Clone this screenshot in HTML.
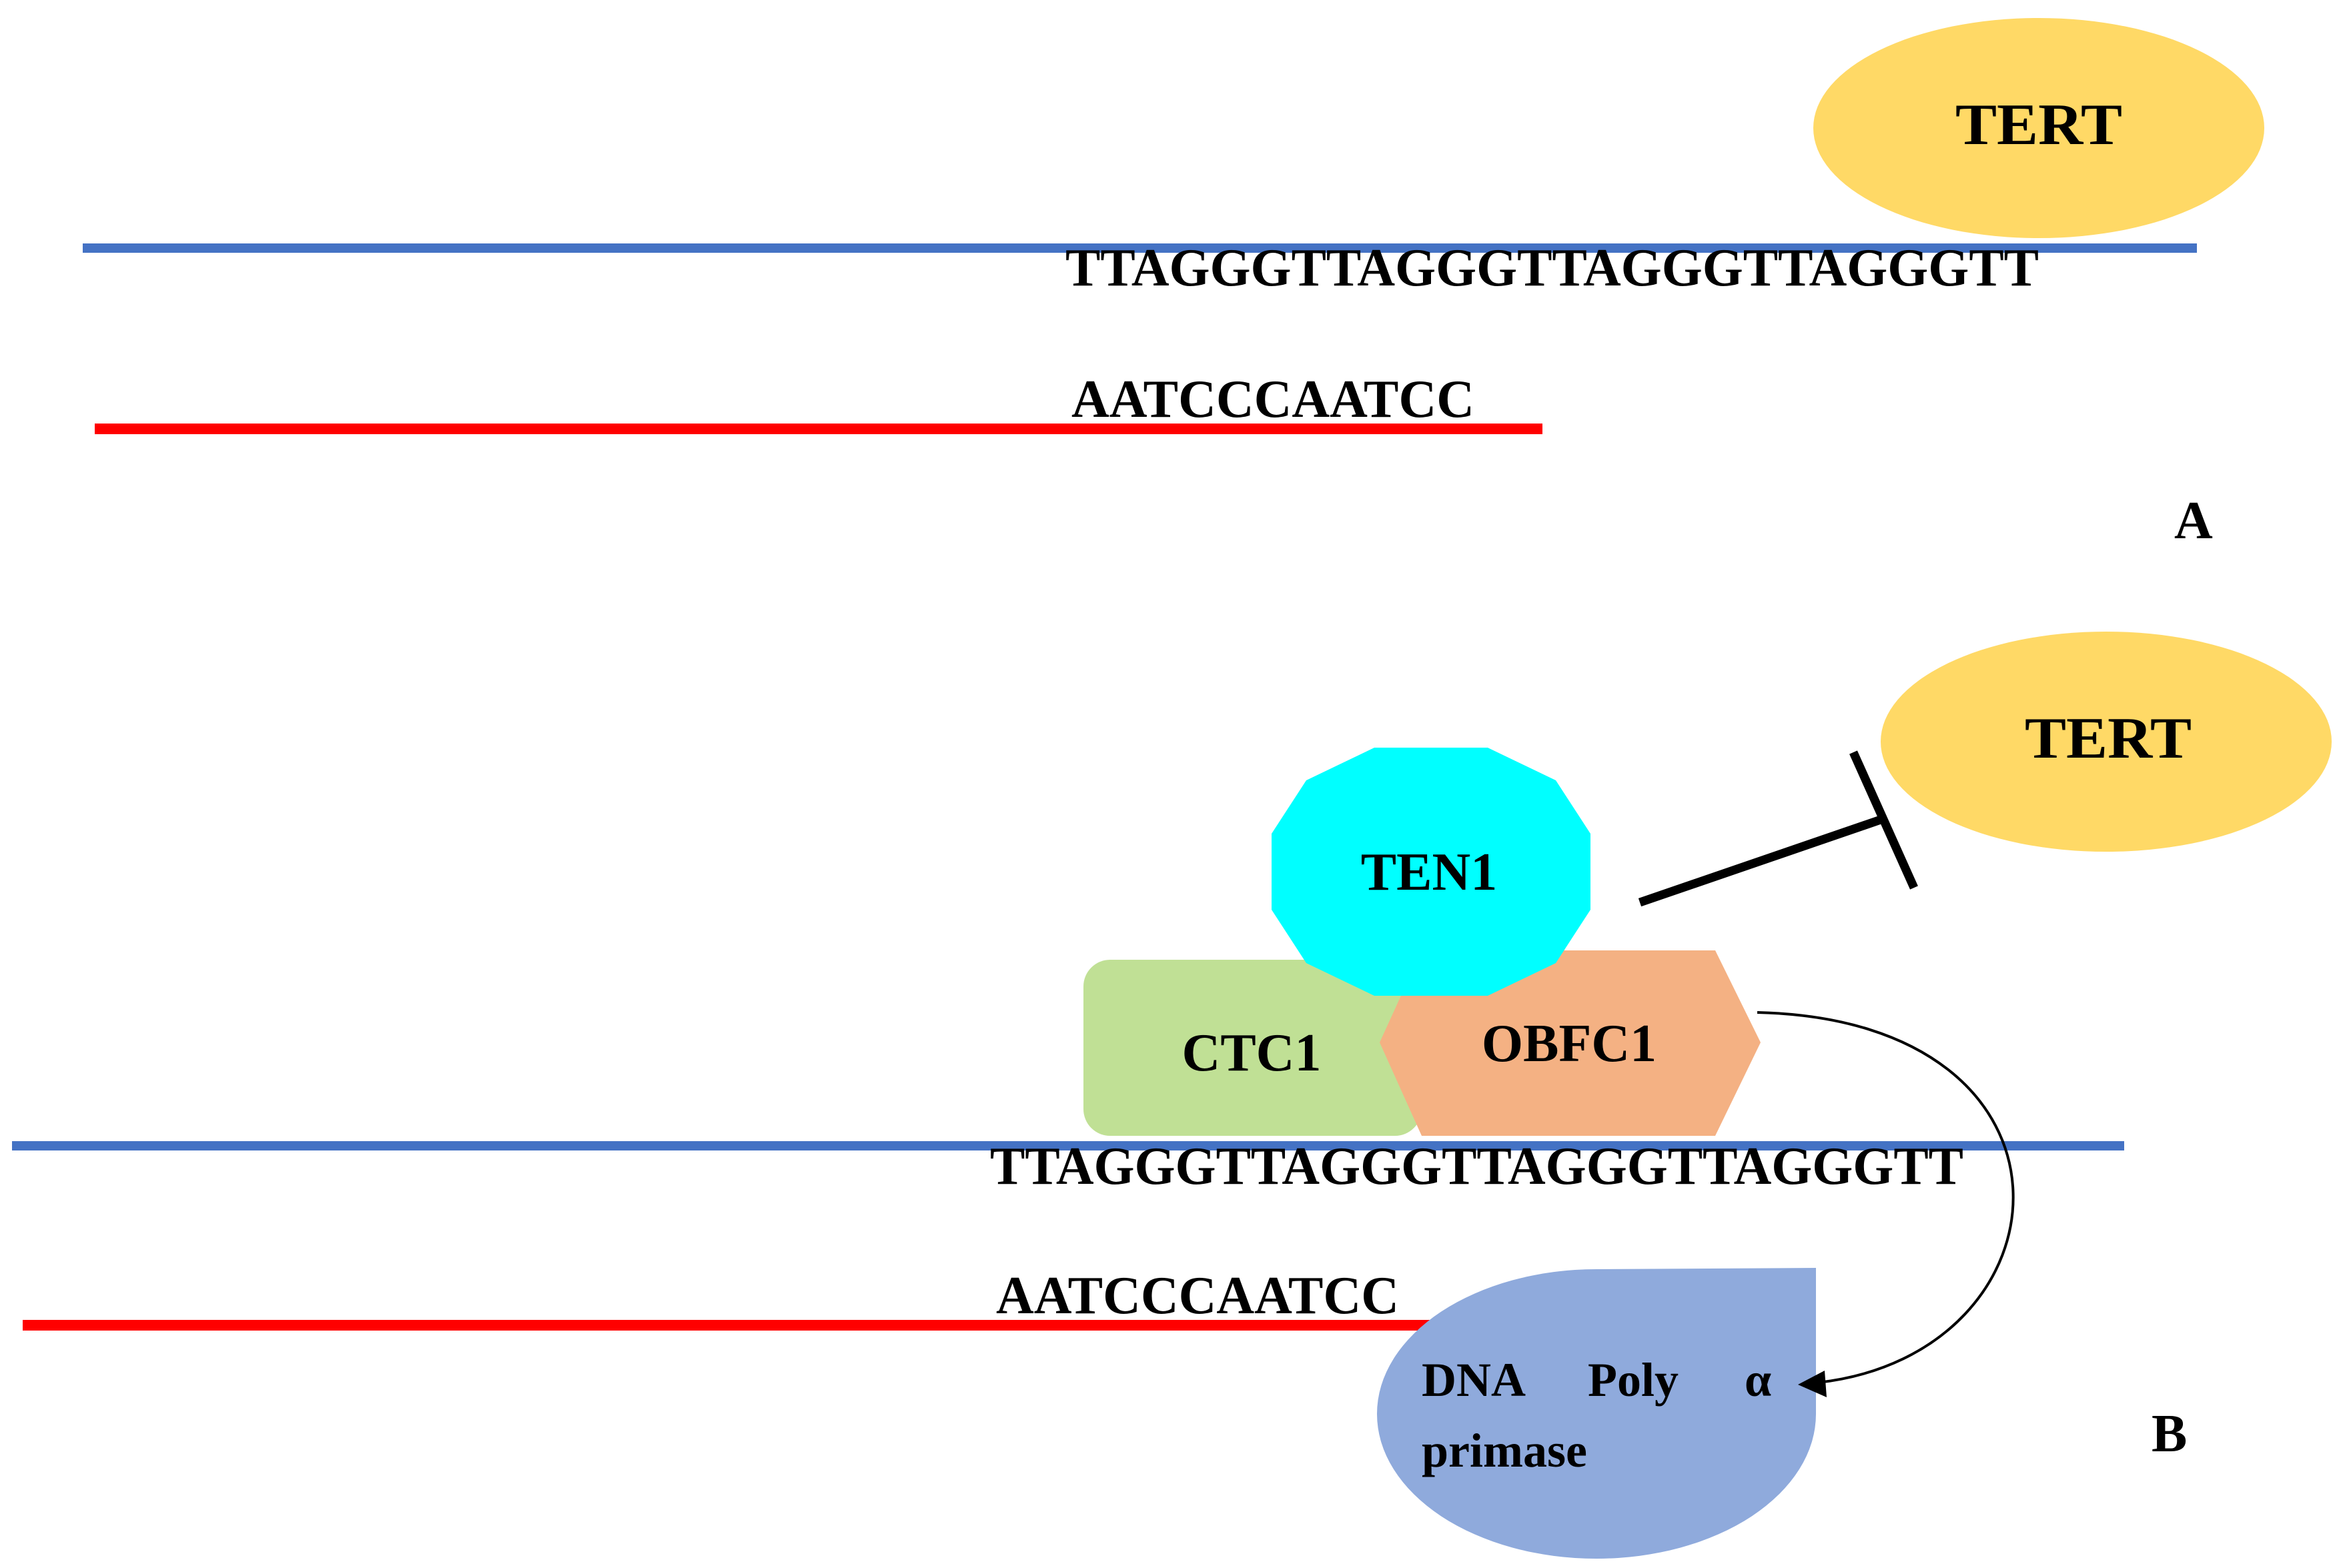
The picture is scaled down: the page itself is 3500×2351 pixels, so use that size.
<!DOCTYPE html>
<html><head><meta charset="utf-8"><style>html,body{margin:0;padding:0;background:#fff}svg{display:block}text{font-family:"Liberation Serif",serif;font-weight:bold;fill:#000}</style></head>
<body>
<svg width="3500" height="2351" viewBox="0 0 3500 2351" xmlns="http://www.w3.org/2000/svg">
<!-- Panel A -->
<ellipse cx="3056" cy="192" rx="338" ry="165" fill="#ffd966"/>
<text x="3056" y="216" font-size="88" text-anchor="middle" textLength="250" lengthAdjust="spacingAndGlyphs">TERT</text>
<line x1="124" y1="372" x2="3293" y2="372" stroke="#4472c4" stroke-width="14"/>
<text x="1597" y="428" font-size="80" textLength="1459" lengthAdjust="spacingAndGlyphs">TTAGGGTTAGGGTTAGGGTTAGGGTT</text>
<text x="1606" y="625" font-size="80" textLength="604" lengthAdjust="spacingAndGlyphs">AATCCCAATCC</text>
<line x1="142" y1="643" x2="2312" y2="643" stroke="#ff0000" stroke-width="16"/>
<text x="3259" y="807" font-size="80">A</text>

<!-- Panel B -->
<ellipse cx="3157" cy="1112" rx="338" ry="165" fill="#ffd966"/>
<text x="3160" y="1136" font-size="88" text-anchor="middle" textLength="250" lengthAdjust="spacingAndGlyphs">TERT</text>
<line x1="2458" y1="1353" x2="2819" y2="1229" stroke="#000" stroke-width="13"/>
<line x1="2778" y1="1128" x2="2869" y2="1331" stroke="#000" stroke-width="13"/>

<rect x="1624" y="1439" width="507" height="264" rx="40" fill="#c0e095"/>
<polygon points="2068,1563 2131,1425 2571,1425 2639,1563 2571,1703 2131,1703" fill="#f4b183"/>
<polygon points="2060,1121 2230,1121 2332,1170 2384,1250 2384,1364 2332,1444 2230,1493 2060,1493 1958,1444 1906,1364 1906,1250 1958,1170" fill="#00ffff"/>
<text x="2142" y="1334" font-size="80" text-anchor="middle">TEN1</text>
<text x="1876" y="1605" font-size="80" text-anchor="middle">CTC1</text>
<text x="2352" y="1591" font-size="80" text-anchor="middle">OBFC1</text>

<line x1="18" y1="1718" x2="3184" y2="1718" stroke="#4472c4" stroke-width="14"/>
<text x="1484" y="1775" font-size="80" textLength="1459" lengthAdjust="spacingAndGlyphs">TTAGGGTTAGGGTTAGGGTTAGGGTT</text>
<line x1="34" y1="1987" x2="2160" y2="1987" stroke="#ff0000" stroke-width="16"/>
<text x="1493" y="1969" font-size="80" textLength="604" lengthAdjust="spacingAndGlyphs">AATCCCAATCC</text>

<path d="M2722 1901 L2722 2120 A329 217 0 1 1 2393 1903 Z" fill="#8faadc"/>
<text x="2131" y="2093" font-size="72">DNA</text>
<text x="2380" y="2093" font-size="72">Poly</text>
<text x="2615" y="2093" font-size="72">α</text>
<text x="2131" y="2199" font-size="72">primase</text>

<path d="M2634 1518 C3150 1530, 3110 2030, 2725 2073" fill="none" stroke="#000" stroke-width="4"/>
<polygon points="2695,2076 2735,2055 2738,2095" fill="#000"/>
<text x="3225" y="2176" font-size="80">B</text>
</svg>
</body></html>
